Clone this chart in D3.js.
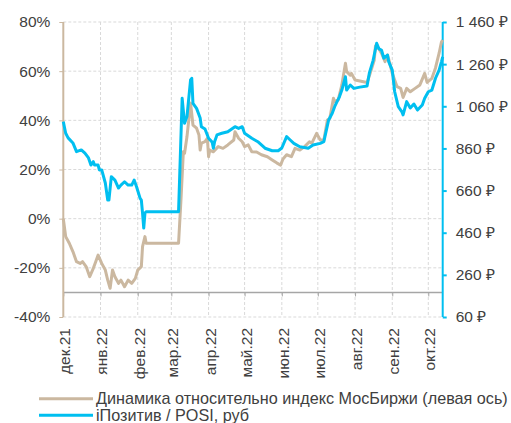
<!DOCTYPE html>
<html>
<head>
<meta charset="utf-8">
<script src="https://cdn.jsdelivr.net/npm/d3@7"></script>
<style>
  body { margin: 0; background: #fff; }
  svg text { font-family: 'Liberation Sans', Arial, sans-serif; fill: #404040; }
</style>
</head>
<body>
<svg id="chart" width="511" height="423"></svg>
<script>
// values
var posiDates = ['2021-12-01','2021-12-03','2021-12-05','2021-12-09','2021-12-12','2021-12-16','2021-12-19','2021-12-22','2021-12-24','2021-12-26','2021-12-27','2021-12-30','2021-12-31','2022-01-02','2022-01-05','2022-01-07','2022-01-08','2022-01-10','2022-01-13','2022-01-16','2022-01-18','2022-01-21','2022-01-24','2022-01-27','2022-01-29','2022-01-31','2022-02-03','2022-02-04','2022-02-05','2022-02-06','2022-02-07','2022-02-08','2022-03-07','2022-03-10','2022-03-12','2022-03-14','2022-03-17','2022-03-18','2022-03-19','2022-03-22','2022-03-25','2022-03-26','2022-03-29','2022-04-01','2022-04-04','2022-04-05','2022-04-06','2022-04-08','2022-04-12','2022-04-17','2022-04-23','2022-04-26','2022-04-29','2022-05-01','2022-05-07','2022-05-12','2022-05-18','2022-05-24','2022-05-29','2022-06-01','2022-06-05','2022-06-08','2022-06-11','2022-06-16','2022-06-23','2022-06-27','2022-07-03','2022-07-06','2022-07-10','2022-07-13','2022-07-15','2022-07-17','2022-07-19','2022-07-21','2022-07-24','2022-07-25','2022-07-28','2022-07-31','2022-08-05','2022-08-11','2022-08-13','2022-08-16','2022-08-19','2022-08-21','2022-08-23','2022-08-25','2022-08-28','2022-08-29','2022-09-01','2022-09-03','2022-09-06','2022-09-09','2022-09-10','2022-09-13','2022-09-16','2022-09-19','2022-09-22','2022-09-26','2022-09-28','2022-10-01','2022-10-04','2022-10-07','2022-10-10','2022-10-12','2022-10-13'];
var posiPrice = [987,932,910,886,845,853,838,815,781,797,781,781,758,758,696,615,615,726,710,672,686,702,686,686,710,678,623,615,553,482,553,560,560,1098,979,1011,1185,1193,1074,1050,1004,963,952,908,890,861,892,924,932,939,963,955,963,932,908,892,861,849,849,862,916,900,884,868,861,876,884,892,995,1027,1058,1082,1105,1137,1200,1137,1161,1145,1151,1156,1220,1277,1359,1332,1327,1288,1303,1272,1232,1129,1058,1034,1019,1082,1052,1071,1042,1066,1098,1129,1137,1193,1232,1272,1294];

var relDates = ['2021-12-01','2021-12-03','2021-12-06','2021-12-09','2021-12-12','2021-12-15','2021-12-17','2021-12-20','2021-12-23','2021-12-26','2021-12-28','2021-12-30','2022-01-02','2022-01-05','2022-01-07','2022-01-09','2022-01-11','2022-01-13','2022-01-16','2022-01-18','2022-01-21','2022-01-24','2022-01-27','2022-01-30','2022-02-01','2022-02-04','2022-02-05','2022-02-07','2022-02-08','2022-03-07','2022-03-09','2022-03-11','2022-03-12','2022-03-14','2022-03-17','2022-03-19','2022-03-22','2022-03-24','2022-03-25','2022-03-26','2022-03-29','2022-03-31','2022-04-01','2022-04-02','2022-04-05','2022-04-09','2022-04-13','2022-04-17','2022-04-22','2022-04-23','2022-04-26','2022-04-29','2022-05-01','2022-05-04','2022-05-07','2022-05-11','2022-05-15','2022-05-20','2022-05-24','2022-05-28','2022-05-31','2022-06-02','2022-06-05','2022-06-09','2022-06-12','2022-06-16','2022-06-20','2022-06-24','2022-06-26','2022-06-30','2022-07-03','2022-07-06','2022-07-09','2022-07-11','2022-07-14','2022-07-15','2022-07-18','2022-07-21','2022-07-24','2022-07-25','2022-07-28','2022-07-29','2022-08-01','2022-08-05','2022-08-11','2022-08-14','2022-08-17','2022-08-18','2022-08-21','2022-08-23','2022-08-26','2022-08-28','2022-08-29','2022-09-01','2022-09-05','2022-09-08','2022-09-10','2022-09-13','2022-09-16','2022-09-20','2022-09-24','2022-09-28','2022-09-30','2022-10-04','2022-10-07','2022-10-10','2022-10-12','2022-10-13'];
var relPct = [0,-7.3,-10,-13.4,-17.5,-18.2,-17.5,-19.5,-23.6,-20.2,-17.5,-14.8,-18.2,-20.9,-25,-28.3,-20.9,-23.6,-26.3,-25,-27.7,-25,-26.3,-24.3,-20.9,-19.5,-11.4,-7.3,-10,-10,7.6,27.2,26.6,33.3,47,38.1,36.8,34,27.9,30.7,31.3,32.7,25.2,27.9,27.2,29.3,28.6,30,32,35.4,32.7,31.3,29.3,30,27.2,27.1,26,25.2,23.9,22.6,21.8,24.3,26,25.2,28.6,27.9,29.3,31.3,30.7,34.7,32,32,40.1,40.8,49,47.6,48.3,54.4,63.2,59.8,58.4,59.1,56.4,56,55.4,59.8,64.5,70.2,69,67.3,63.9,66.6,65,59.1,53.7,53,49.3,53,51.6,53,54.4,59.1,55.4,57.1,61.3,67.3,71.9,72.7];

var monthNames = ['янв.','фев.','мар.','апр.','май.','июн.','июл.','авг.','сен.','окт.','ноя.','дек.'];
var pctTicks = [-40,-20,0,20,40,60,80];
var rubTicks = [60,260,460,660,860,1060,1260,1460];
var seriesNames = ['Динамика относительно индекс МосБиржи (левая ось)', 'iПозитив / POSI, руб'];

var beige = '#cbb8a0', cyan = '#00bff0';
var parse = d3.timeParse('%Y-%m-%d');
var svg = d3.select('#chart');
var pLeft = 63.3, pRight = 442.7, pTop = 22, pBottom = 317;

var x = d3.scaleTime().domain([parse('2021-12-01'), parse('2022-10-13')]).range([pLeft, pRight]);
var yL = d3.scaleLinear().domain([-40, 80]).range([pBottom, pTop]);
var yR = d3.scaleLinear().domain([60, 1460]).range([pBottom, pTop]);
var months = d3.timeMonth.range(parse('2021-12-01'), parse('2022-10-02'));

// grid
svg.append('g').selectAll('line').data(pctTicks).join('line')
  .attr('x1', pLeft).attr('x2', pRight)
  .attr('y1', d => yL(d)).attr('y2', d => yL(d))
  .attr('stroke', '#d9d9d9').attr('stroke-dasharray', '3,2');
svg.append('g').selectAll('line').data(months.slice(1)).join('line')
  .attr('x1', d => x(d)).attr('x2', d => x(d))
  .attr('y1', pTop).attr('y2', pBottom)
  .attr('stroke', '#d9d9d9').attr('stroke-dasharray', '3,2');

// x axis crossing at -30%
var fmt = d => monthNames[d.getMonth()] + d3.timeFormat('%y')(d);
var xAxis = svg.append('g')
  .attr('transform', 'translate(0,' + yL(-30) + ')')
  .call(d3.axisBottom(x).tickValues(months).tickSize(4).tickFormat(fmt));
xAxis.select('.domain').attr('stroke', '#a6a6a6').attr('stroke-width', 1.5)
  .attr('d', 'M' + pLeft + ',0H' + pRight);
xAxis.selectAll('.tick line').attr('stroke', '#a6a6a6');
xAxis.selectAll('.tick text')
  .attr('transform', 'translate(1,' + (pBottom - yL(-30) + 11) + ') rotate(-90)')
  .attr('x', 0).attr('y', 0).attr('dy', '0.35em')
  .attr('text-anchor', 'end').style('font-size', '15.5px');

// left axis
var la = svg.append('g').attr('transform', 'translate(' + pLeft + ',0)')
  .call(d3.axisLeft(yL).tickValues(pctTicks).tickSize(4).tickPadding(9).tickFormat(d => d + '%'));
la.select('.domain').attr('stroke', beige).attr('stroke-width', 2).attr('d', 'M0,' + pTop + 'V' + pBottom);
la.selectAll('.tick line').attr('stroke', beige);
la.selectAll('.tick text').style('font-size', '15.5px');

// right axis
var ruFmt = d3.formatLocale({ decimal: ',', thousands: '\u00a0', grouping: [3], currency: ['', ''] }).format(',');
var ra = svg.append('g').attr('transform', 'translate(' + pRight + ',0)')
  .call(d3.axisRight(yR).tickValues(rubTicks).tickSize(4).tickPadding(9).tickFormat(d => ruFmt(d) + ' ₽'));
ra.select('.domain').attr('stroke', cyan).attr('stroke-width', 2).attr('d', 'M0,' + pTop + 'V' + pBottom);
ra.selectAll('.tick line').attr('stroke', cyan).attr('stroke-width', 2);
ra.selectAll('.tick text').style('font-size', '15.5px');

// series
var relLine = d3.line().x((d, i) => x(parse(relDates[i]))).y(d => yL(d));
var posiLine = d3.line().x((d, i) => x(parse(posiDates[i]))).y(d => yR(d));
svg.append('path').datum(relPct).attr('d', relLine)
  .attr('fill', 'none').attr('stroke', beige).attr('stroke-width', 3).attr('stroke-linejoin', 'round');
svg.append('path').datum(posiPrice).attr('d', posiLine)
  .attr('fill', 'none').attr('stroke', cyan).attr('stroke-width', 3).attr('stroke-linejoin', 'round');

// legend
var lg = svg.append('g').selectAll('g').data(seriesNames).join('g')
  .attr('transform', (d, i) => 'translate(39,' + (398.7 + i * 16.6) + ')');
lg.append('line').attr('x1', 0).attr('x2', 54)
  .attr('stroke', (d, i) => i ? cyan : beige).attr('stroke-width', 3);
lg.append('text').attr('x', 57).attr('dy', '0.35em').style('font-size', '16.2px').text(d => d);
</script>
</body>
</html>
